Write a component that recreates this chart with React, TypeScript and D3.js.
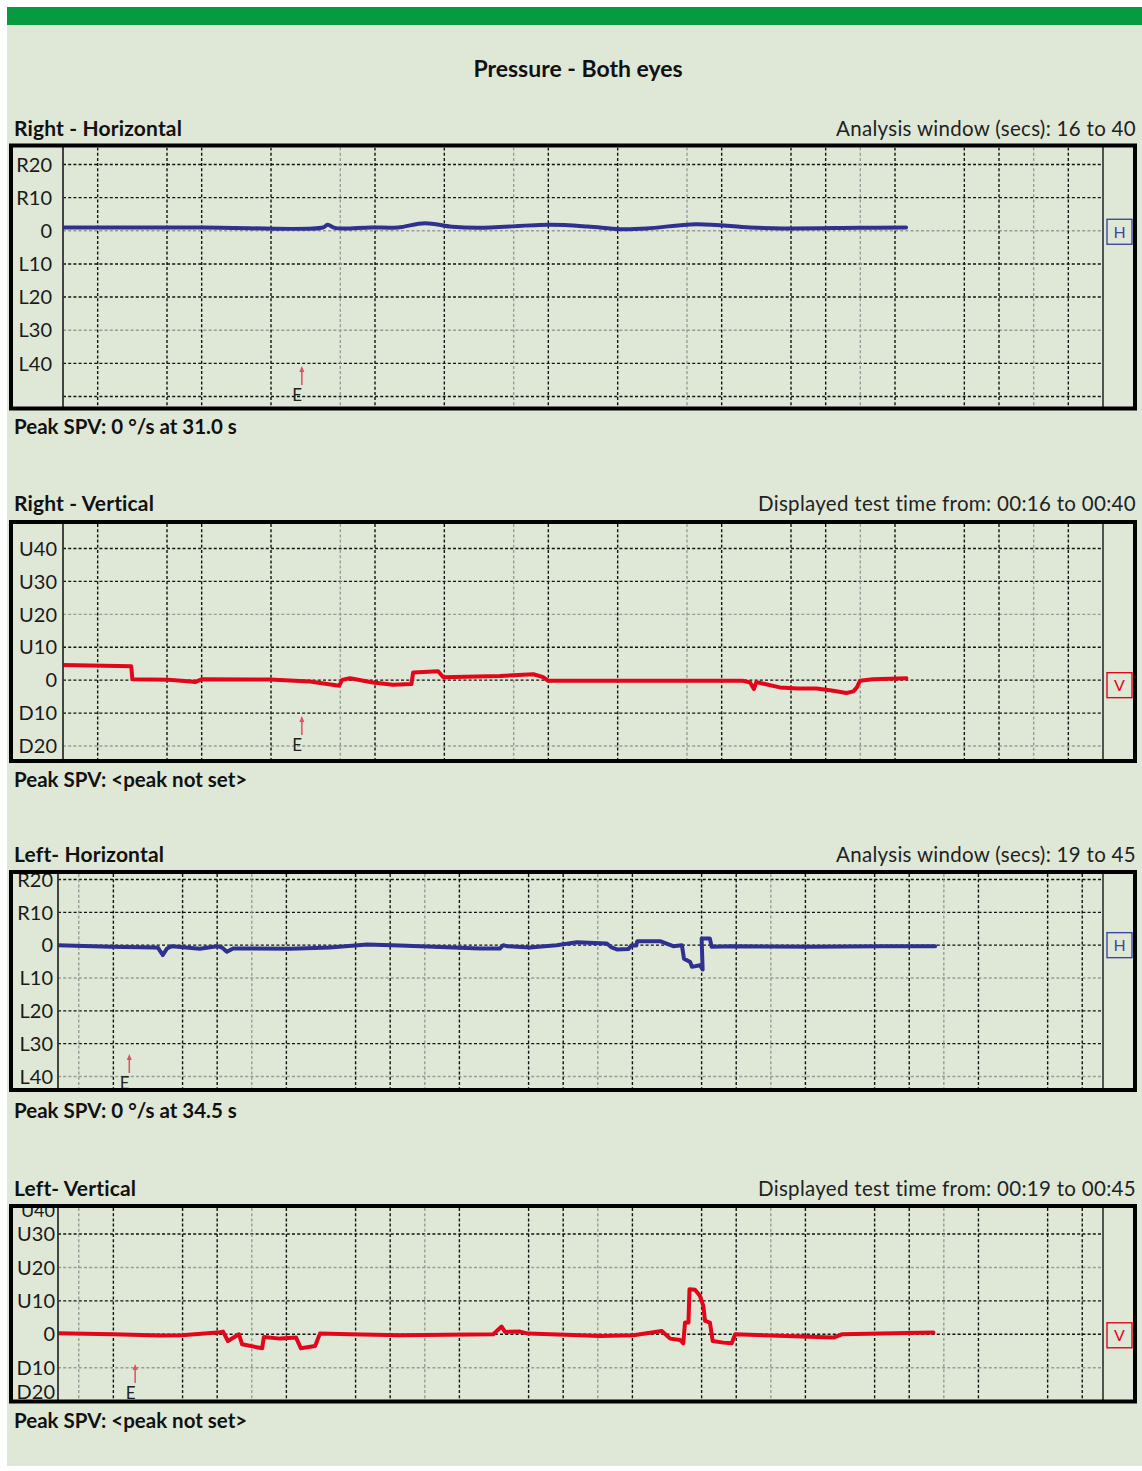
import React from 'react';
import * as d3 from 'd3';

type Pt = [number, number];

// ---------- DATA ----------
const rightHorizontal: Pt[] = [
  [16.0, 1.0], [20.0, 1.0], [23.5, 1.0], [23.63, 1.8], [23.87, 0.8], [24.88, 1.0], [25.66, 1.0],
  [26.44, 2.3], [27.22, 1.2], [28.0, 0.9], [30.05, 1.8], [31.14, 1.3], [32.07, 0.5], [32.84, 0.7],
  [34.26, 2.0], [35.82, 1.0], [36.77, 0.7], [38.96, 0.9], [40.32, 1.0],
];

const rightVertical: Pt[] = [
  [16.0, 4.6], [17.97, 4.2], [18.0, 0.3], [19.03, 0.1], [19.7, -0.4], [19.81, -0.6], [20.01, 0.3], [21.97, 0.2],
  [23.12, -0.4], [23.97, -1.7], [24.05, 0.1], [24.28, 0.6], [24.94, -0.7], [25.52, -1.4], [26.05, -1.2],
  [26.1, 2.3], [26.82, 2.7], [26.97, 0.9], [28.6, 1.3], [29.57, 1.8], [29.85, 0.9], [30.0, -0.2],
  [35.62, -0.2], [35.82, -0.7], [35.93, -2.7], [36.0, -0.6], [36.68, -2.2], [37.2, -2.5], [37.74, -2.5],
  [38.22, -3.2], [38.6, -3.9], [38.8, -3.4], [38.9, -2.2], [38.99, -0.2], [39.36, 0.3], [40.33, 0.6],
];

const leftHorizontal: Pt[] = [
  [19.4, 0], [20.9, -0.5], [22.2, -0.7], [22.29, -0.8], [22.43, -3.0], [22.55, -1.0], [22.69, -0.3],
  [23.5, -1.1], [24.0, -0.3], [24.14, -0.7], [24.28, -2.0], [24.46, -1.0], [26.11, -1.1], [27.26, -0.7],
  [27.98, -0.1], [28.33, 0.2], [29.28, -0.1], [31.6, -1.0], [32.17, -1.0], [32.27, 0], [32.37, -0.3],
  [33.04, -0.7], [33.81, 0], [34.39, 0.9], [35.26, 0.5], [35.4, -0.7], [35.55, -1.3], [35.88, -1.2],
  [35.98, 0], [36.11, -0.1], [36.14, 1.2], [36.8, 1.2], [36.99, 0.5], [37.18, -0.3], [37.43, 0],
  [37.49, -4.1], [37.67, -5.1], [37.72, -6.6], [37.95, -6.1], [38.03, -7.4], [38.0, 2.0], [38.24, 2.0],
  [38.29, -0.5], [38.92, -0.3], [41.23, -0.5], [43.16, -0.3], [44.75, -0.3],
];

const leftVertical: Pt[] = [
  [19.4, 0.3], [20.99, 0], [22.35, -0.4], [22.98, -0.3], [24.0, 0.5], [24.17, 0.8], [24.31, -2.0],
  [24.63, 0], [24.72, -3.0], [25.3, -4.2], [25.35, -0.8], [25.82, -1.3], [26.28, -1.0], [26.42, -4.2],
  [26.83, -3.5], [26.97, 0.2], [27.84, 0], [29.28, -0.3], [31.98, 0], [32.22, 2.3], [32.32, 0.7],
  [32.75, 0.8], [32.99, 0.2], [34.49, -0.3], [35.06, -0.5], [36.03, -0.3], [36.85, 1.0], [37.09, -1.3],
  [37.38, -1.7], [37.47, -2.7], [37.52, 3.5], [37.62, 3.5], [37.65, 13.5], [37.81, 13.3], [37.95, 11.5],
  [38.05, 8.5], [38.1, 4.0], [38.24, 3.5], [38.32, -2.0], [38.63, -2.5], [38.87, -2.7], [38.97, 0],
  [41.81, -1.0], [42.05, 0], [44.7, 0.5],
];

const horizTicksRight = [20, 10, 0, -10, -20, -30, -40, -50];
const horizLabelsRight = [20, 10, 0, -10, -20, -30, -40];
const horizGreyRight = [0, -30];
const vertTicksRight = [40, 30, 20, 10, 0, -10, -20];
const vertGreyRight = [20, -20];
const horizTicksLeft = [20, 10, 0, -10, -20, -30, -40];
const horizGreyLeft = [-10, -40];
const vertTicksLeft = [40, 30, 20, 10, 0, -10, -20];
const vertGreyLeft = [20, -10];

const gridSecsRight = [17, 19, 20, 22, 24, 25, 27, 29, 30, 32, 34, 35, 37, 38, 39, 40, 42, 43, 44, 45];
const gridGreyRight = [24, 29, 34, 39, 44];
const gridSecsLeft = [20, 21, 23, 24, 25, 26, 28, 29, 30, 31, 33, 34, 35, 36, 38, 39, 40, 41, 43, 44, 45, 46, 48, 49];
const gridGreyLeft = [20, 25, 30, 35, 40, 45];

const eventTimes = [22.89, 22.89, 21.46, 21.63];

const panelTitles = ['Right - Horizontal', 'Right - Vertical', 'Left- Horizontal', 'Left- Vertical'];
const panelInfos = [
  'Analysis window (secs): 16 to 40',
  'Displayed test time from: 00:16 to 00:40',
  'Analysis window (secs): 19 to 45',
  'Displayed test time from: 00:19 to 00:45',
];
const peakTexts = ['Peak SPV: 0 °/s at 31.0 s', 'Peak SPV: <peak not set>', 'Peak SPV: 0 °/s at 34.5 s', 'Peak SPV: <peak not set>'];

// ---------- STYLE ----------
const FONT = "Lato, 'Open Sans', 'DejaVu Sans', sans-serif";
const BG = '#dfe8d7';
const GREEN = '#079b3f';
const BLUE = '#2e3190';
const RED = '#e3061b';
const PLOT_RIGHT = 1103;
const FRAME_LEFT = 11;
const FRAME_RIGHT = 1135;

const horizLabel = (v: number) => (v > 0 ? `R${v}` : v < 0 ? `L${-v}` : '0');
const vertLabel = (v: number) => (v > 0 ? `U${v}` : v < 0 ? `D${-v}` : '0');

interface Cfg {
  title: string; info: string; peak: string; headY: number; peakY: number;
  top: number; bottom: number; axisX: number;
  xDomain: [number, number]; yDomain: [number, number]; yRange: [number, number];
  ticks: number[]; labels: number[]; grey: number[]; fmt: (v: number) => string;
  gridSecs: number[]; gridGrey: number[]; smooth: boolean;
  data: Pt[]; color: string; letter: string; boxDy: number; eTime: number; eBase: number; labelX: number;
}

const panels: Cfg[] = [
  {
    title: panelTitles[0], info: panelInfos[0], peak: peakTexts[0], headY: 136, peakY: 434,
    top: 145.5, bottom: 408.5, axisX: 63, xDomain: [16, 46], yDomain: [20, -50], yRange: [164.5, 396.5],
    ticks: horizTicksRight, labels: horizLabelsRight, grey: horizGreyRight, fmt: horizLabel,
    gridSecs: gridSecsRight, gridGrey: gridGreyRight, data: rightHorizontal, color: BLUE, letter: 'H', smooth: true,
    boxDy: 1, eTime: eventTimes[0], eBase: 401, labelX: 52,
  },
  {
    title: panelTitles[1], info: panelInfos[1], peak: peakTexts[1], headY: 511, peakY: 787,
    top: 522, bottom: 761, axisX: 63, xDomain: [16, 46], yDomain: [40, -20], yRange: [548.5, 746],
    ticks: vertTicksRight, labels: vertTicksRight, grey: vertGreyRight, fmt: vertLabel,
    gridSecs: gridSecsRight, gridGrey: gridGreyRight, data: rightVertical, color: RED, letter: 'V', smooth: false,
    boxDy: 5, eTime: eventTimes[1], eBase: 751, labelX: 57,
  },
  {
    title: panelTitles[2], info: panelInfos[2], peak: peakTexts[2], headY: 862, peakY: 1118,
    top: 872, bottom: 1090, axisX: 58, xDomain: [19.4, 49.6], yDomain: [20, -40], yRange: [879.5, 1076.5],
    ticks: horizTicksLeft, labels: horizTicksLeft, grey: horizGreyLeft, fmt: horizLabel,
    gridSecs: gridSecsLeft, gridGrey: gridGreyLeft, data: leftHorizontal, color: BLUE, letter: 'H', smooth: false,
    boxDy: 0, eTime: eventTimes[2], eBase: 1089, labelX: 53,
  },
  {
    title: panelTitles[3], info: panelInfos[3], peak: peakTexts[3], headY: 1196, peakY: 1428,
    top: 1206, bottom: 1401.5, axisX: 58, xDomain: [19.4, 49.6], yDomain: [30, -10], yRange: [1234, 1367.7],
    ticks: vertTicksLeft, labels: vertTicksLeft, grey: vertGreyLeft, fmt: vertLabel,
    gridSecs: gridSecsLeft, gridGrey: gridGreyLeft, data: leftVertical, color: RED, letter: 'V', smooth: false,
    boxDy: 1, eTime: eventTimes[3], eBase: 1399, labelX: 55,
  },
];

function Panel({ cfg, idx }: { cfg: Cfg; idx: number }) {
  const x = d3.scaleLinear().domain(cfg.xDomain).range([cfg.axisX, PLOT_RIGHT]);
  const y = d3.scaleLinear().domain(cfg.yDomain).range(cfg.yRange);
  const line = d3
    .line<Pt>()
    .x((d) => x(d[0]))
    .y((d) => y(d[1]))
    .curve(cfg.smooth ? d3.curveCatmullRom.alpha(0.5) : d3.curveLinear);
  const inTop = cfg.top + 2;
  const inBottom = cfg.bottom - 2;
  const clipId = `clip-${idx}`;
  const ex = x(cfg.eTime);
  const boxY = y(0) + cfg.boxDy;
  const boxColor = cfg.color === BLUE ? '#3d4a9e' : RED;
  return (
    <g>
      <defs>
        <clipPath id={clipId}>
          <rect x={cfg.axisX} y={inTop} width={PLOT_RIGHT - cfg.axisX} height={inBottom - inTop} />
        </clipPath>
      </defs>
      <text x={14} y={cfg.headY} fontFamily={FONT} fontWeight={700} fontSize={21} letterSpacing={0.15} fill="#111">
        {cfg.title}
      </text>
      <text x={1136} y={cfg.headY} textAnchor="end" fontFamily={FONT} fontSize={20.5} letterSpacing={0.3} fill="#222">
        {cfg.info}
      </text>
      <g clipPath={`url(#${clipId})`}>
        {cfg.ticks.map((v) => {
          const g = cfg.grey.includes(v);
          return (
            <line key={`h${v}`} x1={cfg.axisX} x2={PLOT_RIGHT} y1={y(v)} y2={y(v)}
              stroke={g ? '#9a9a9a' : '#111'} strokeWidth={1.4} strokeDasharray="3,2.2" />
          );
        })}
        {cfg.gridSecs.map((s) => {
          const g = cfg.gridGrey.includes(s);
          return (
            <line key={`v${s}`} x1={x(s)} x2={x(s)} y1={inTop} y2={inBottom}
              stroke={g ? '#9a9a9a' : '#111'} strokeWidth={1.4} strokeDasharray="3,2.2" />
          );
        })}
        <path d={line(cfg.data) || ''} fill="none" stroke={cfg.color} strokeWidth={4}
          strokeLinejoin="round" strokeLinecap="round" />
      </g>
      {cfg.labels.map((v) => {
        const raw = y(v);
        const clampedTop = raw < inTop + 4;
        const yy = clampedTop ? inTop + 3 : Math.min(inBottom - 7.5, raw);
        return (
          <text key={`l${v}`} x={cfg.labelX} y={yy} dy="0.36em" textAnchor="end" fontFamily={FONT}
            fontSize={clampedTop ? 18 : 20} fill="#1a1a1a">
            {cfg.fmt(v)}
          </text>
        );
      })}
      {/* event marker */}
      <line x1={ex} x2={ex} y1={cfg.eBase - 16} y2={cfg.eBase - 31} stroke="#e0505e" strokeWidth={1.5} />
      <path d={`M${ex - 2.5},${cfg.eBase - 29} L${ex},${cfg.eBase - 35} L${ex + 2.5},${cfg.eBase - 29} Z`} fill="#e0505e" />
      <text x={ex - 9.5} y={cfg.eBase} fontFamily={FONT} fontSize={17} fill="#222">E</text>
      {/* axis and right column lines */}
      <line x1={cfg.axisX} x2={cfg.axisX} y1={cfg.top} y2={cfg.bottom} stroke="#333" strokeWidth={1.8} />
      <line x1={PLOT_RIGHT} x2={PLOT_RIGHT} y1={cfg.top} y2={cfg.bottom} stroke="#222" strokeWidth={1.5} />
      <rect x={1107} y={boxY - 12.5} width={25} height={25} fill="none" stroke={boxColor} strokeWidth={1.4} />
      <text x={1119.5} y={boxY} dy="0.36em" textAnchor="middle" fontFamily={FONT} fontSize={16} fill={boxColor}>
        {cfg.letter}
      </text>
      {/* frame */}
      <rect x={FRAME_LEFT} y={cfg.top} width={FRAME_RIGHT - FRAME_LEFT} height={cfg.bottom - cfg.top}
        fill="none" stroke="#000" strokeWidth={4} />
      <text x={14} y={cfg.peakY} fontFamily={FONT} fontWeight={700} fontSize={20.5} fill="#111">
        {cfg.peak}
      </text>
    </g>
  );
}

export default function App() {
  return (
    <svg width={1142} height={1471} style={{ position: 'absolute', left: 0, top: 0, background: '#fff' }}>
      <rect x={7} y={7} width={1135} height={1459} fill={BG} />
      <rect x={7} y={7} width={1135} height={18} fill={GREEN} />
      <text x={578} y={77} textAnchor="middle" fontFamily={FONT} fontWeight={700} fontSize={23} fill="#111">
        Pressure - Both eyes
      </text>
      {panels.map((p, i) => (
        <Panel key={i} cfg={p} idx={i} />
      ))}
    </svg>
  );
}
